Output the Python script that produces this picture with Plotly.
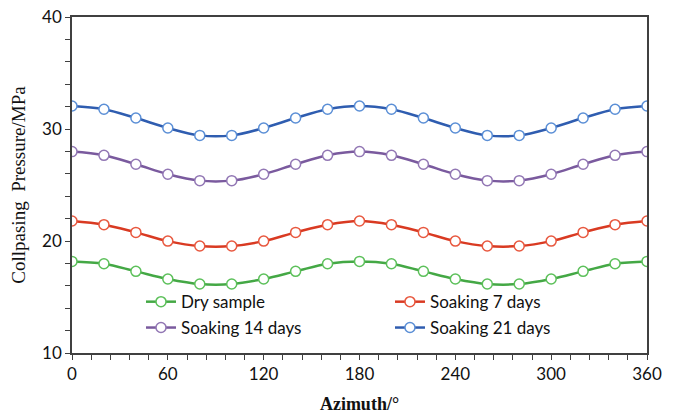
import plotly.graph_objects as go

azimuth = [0, 20, 40, 60, 80, 100, 120, 140, 160, 180, 200, 220, 240, 260, 280, 300, 320, 340, 360]
dry = [18.18, 17.97, 17.29, 16.61, 16.16, 16.16, 16.61, 17.29, 17.97, 18.18, 17.97, 17.29, 16.61, 16.16, 16.16, 16.61, 17.29, 17.97, 18.18]
soak7 = [21.79, 21.46, 20.77, 19.99, 19.55, 19.55, 19.99, 20.77, 21.46, 21.79, 21.46, 20.77, 19.99, 19.55, 19.55, 19.99, 20.77, 21.46, 21.79]
soak14 = [27.98, 27.65, 26.85, 25.96, 25.39, 25.39, 25.96, 26.85, 27.65, 27.98, 27.65, 26.85, 25.96, 25.39, 25.39, 25.96, 26.85, 27.65, 27.98]
soak21 = [32.05, 31.76, 30.98, 30.09, 29.43, 29.43, 30.09, 30.98, 31.76, 32.05, 31.76, 30.98, 30.09, 29.43, 29.43, 30.09, 30.98, 31.76, 32.05]

names = ["Dry sample", "Soaking 7 days", "Soaking 14 days", "Soaking 21 days"]
series = [dry, soak7, soak14, soak21]
line_colors = ["#44a845", "#d93a22", "#7a5a9e", "#2f5db0"]
marker_colors = ["#5cc05a", "#e8583f", "#9277b4", "#5b8fd6"]
legend_ids = ["legend", "legend2", "legend3", "legend4"]

fig = go.Figure()
for n, s, lc, mc, lg in zip(names, series, line_colors, marker_colors, legend_ids):
    fig.add_trace(go.Scatter(
        x=azimuth, y=s, name=n, mode="lines+markers",
        line=dict(color=lc, width=2.5, shape="spline"),
        marker=dict(symbol="circle", size=10, color="white", line=dict(color=mc, width=1.5)),
        legend=lg,
    ))

legfont = dict(family="Lato", size=17, color="#111")
def leg(x, y):
    return dict(x=x, y=y, xanchor="left", yanchor="top", font=legfont,
                bgcolor="rgba(0,0,0,0)", itemwidth=30)

fig.update_layout(
    width=681, height=413,
    margin=dict(l=64, r=42, t=9, b=68),
    paper_bgcolor="white", plot_bgcolor="white",
    showlegend=True,
    legend=leg(0.12, 0.205),
    legend2=leg(0.553, 0.205),
    legend3=leg(0.12, 0.128),
    legend4=leg(0.553, 0.128),
    xaxis=dict(
        range=[0, 360], tickvals=[0, 60, 120, 180, 240, 300, 360],
        showline=True, mirror=True, linecolor="#404040", linewidth=1.5,
        ticks="outside", ticklen=5, tickcolor="#404040",
        minor=dict(ticks="outside", dtick=12, ticklen=5, tickcolor="#404040"),
        showgrid=False, zeroline=False, automargin=False, ticklabeloverflow="allow",
        tickfont=dict(family="Lato", size=17, color="#111"),
        title=dict(text="<b>Azimuth/°</b>", font=dict(family="Liberation Serif", size=18, color="#111"), standoff=14),
    ),
    yaxis=dict(
        range=[10, 40], tickvals=[10, 20, 30, 40],
        showline=True, mirror=True, linecolor="#404040", linewidth=1.5,
        ticks="outside", ticklen=5, tickcolor="#404040",
        minor=dict(ticks="outside", dtick=2, ticklen=5, tickcolor="#404040"),
        showgrid=False, zeroline=False, automargin=False, ticklabeloverflow="allow",
        tickfont=dict(family="Lato", size=17, color="#111"),
        title=dict(text="Collpasing  Pressure/MPa", font=dict(family="Liberation Serif", size=19, color="#111"), standoff=16),
    ),
)

fig.write_html("out.html")
